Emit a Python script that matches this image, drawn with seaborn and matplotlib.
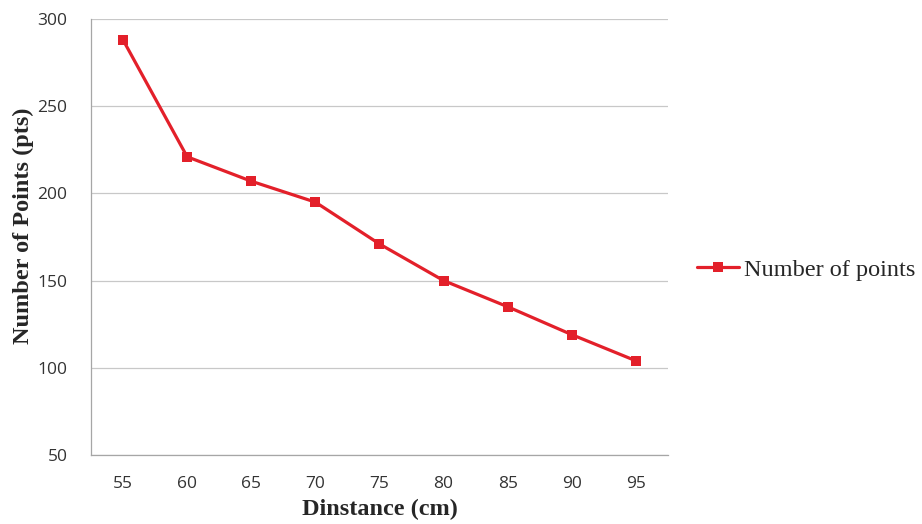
import matplotlib
matplotlib.use("Agg")
import matplotlib.pyplot as plt
import seaborn as sns
import pandas as pd

# Measured point counts at each sensor distance
distances = [55, 60, 65, 70, 75, 80, 85, 90, 95]
points = [288, 221, 207, 195, 171, 150, 135, 119, 104]
y_ticks = [50, 100, 150, 200, 250, 300]
series_name = "Number of points"

df = pd.DataFrame({"Distance": distances, "Points": points})

sns.set_style("white")
fig = plt.figure(figsize=(9.22, 5.24), dpi=100)
ax = fig.add_axes([0.0987, 0.1317, 0.6258, 0.832])

red = "#e3202a"
sns.lineplot(data=df, x="Distance", y="Points", ax=ax, color=red, lw=2.6,
             marker="s", markersize=8, markeredgewidth=0, label=series_name)

step = distances[1] - distances[0]
ax.set_xlim(distances[0] - step / 2, distances[-1] + step / 2)
ax.set_ylim(y_ticks[0], y_ticks[-1])

# category labels centred, tick marks between categories
ax.set_xticks(distances)
ax.set_xticklabels([str(d) for d in distances])
bounds = [d - step / 2 for d in distances] + [distances[-1] + step / 2]
ax.set_xticks(bounds, minor=True)
ax.tick_params(axis="x", which="major", length=0, pad=15, labelsize=12.5, labelcolor="#333333")
ax.tick_params(axis="x", which="minor", length=5, width=0.8, color="#a6a6a6", direction="out")
ax.set_yticks(y_ticks)
ax.tick_params(axis="y", length=5, width=0.8, color="#a6a6a6", pad=12, labelsize=12.5,
               labelcolor="#333333", direction="out")
for lab in ax.get_xticklabels() + ax.get_yticklabels():
    lab.set_family("Open Sans")

ax.grid(axis="y", color="#c8c8c8", lw=0.9)
ax.set_axisbelow(True)
for side in ["top", "right"]:
    ax.spines[side].set_visible(False)
for side in ["left", "bottom"]:
    ax.spines[side].set_color("#a6a6a6")
    ax.spines[side].set_linewidth(0.9)

ax.set_xlabel("Dinstance (cm)", family="Liberation Serif", fontweight="bold", fontsize=17.5, labelpad=5)
ax.set_ylabel("Number of Points (pts)", family="Liberation Serif", fontweight="bold", fontsize=17.5)
ax.yaxis.set_label_coords(-0.098, 0.526)

ax.get_legend().remove()
handles, labels = ax.get_legend_handles_labels()
for h in handles:
    h.set_markersize(6.5)
    h.set_linewidth(2.3)
fig.legend(handles, labels, loc="center left", bbox_to_anchor=(0.732, 0.485), frameon=False,
           handlelength=1.75, handletextpad=0.18, prop={"family": "Liberation Serif", "size": 17.5})

fig.savefig("out.png", dpi=100)
